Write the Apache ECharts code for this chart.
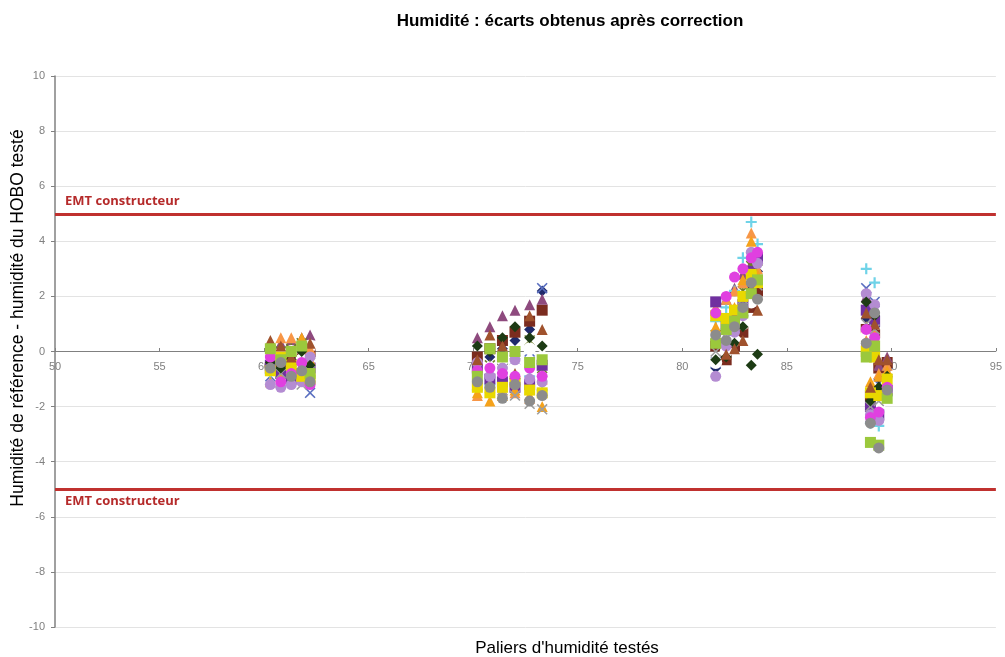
<!DOCTYPE html>
<html>
<head>
<meta charset="utf-8">
<title>Humidité : écarts obtenus après correction</title>
<script src="https://cdn.jsdelivr.net/npm/echarts@6/dist/echarts.min.js"></script>
<style>
  html, body { margin: 0; padding: 0; background: #fff; }
  #chart { width: 1005px; height: 657px; }
</style>
</head>
<body>
<div id="chart"></div>
<script>
// paliers d'humidité (abscisses des points, par palier)
const xP1 = [60.3, 60.8, 61.3, 61.8, 62.2];
const xP2 = [70.2, 70.8, 71.4, 72.0, 72.7, 73.3];
const xP3 = [81.6, 82.1, 82.5, 82.9, 83.3, 83.6];
const xP4 = [88.8, 89.2, 89.0, 89.4, 89.8];

// noms des HOBO testés
const hoboNames = ['HOBO 1', 'HOBO 2', 'HOBO 3', 'HOBO 4', 'HOBO 5', 'HOBO 6', 'HOBO 7', 'HOBO 8', 'HOBO 9',
  'HOBO 10', 'HOBO 11', 'HOBO 12', 'HOBO 13', 'HOBO 14', 'HOBO 15', 'HOBO 16', 'HOBO 17', 'HOBO 18'];

// écarts (référence - HOBO) lus sur chaque palier, une ligne par HOBO
const ecartsP1 = [
  [-0.3, -0.1, 0.0, 0.1, 0.2], [-0.6, -0.4, -0.3, -0.1, 0.0], [0.2, 0.3, 0.4, 0.5, 0.6],
  [-0.9, -0.8, -0.7, -0.5, -1.5], [-0.1, 0.0, 0.1, 0.3, -0.4], [-0.2, -0.1, 0.0, -0.3, 0.2],
  [-0.8, -0.6, -0.7, -1.0, -0.9], [0.3, 0.5, 0.5, 0.4, 0.1], [-0.5, -0.8, -1.0, -0.8, -0.6],
  [-1.1, -0.9, -0.5, 0.5, -0.3], [0.0, -0.8, -1.0, -1.2, -0.7], [-1.2, -1.3, -1.2, -1.1, -0.2],
  [-0.4, -0.6, -0.3, 0.0, -0.5], [-0.7, -0.2, -0.5, -0.9, -1.0], [0.4, 0.2, -0.2, -0.6, 0.3],
  [-0.2, -1.1, -0.8, -0.4, -1.2], [0.1, -0.3, 0.0, 0.2, -0.8], [-0.6, -0.4, -0.9, -0.7, -1.1]
];
const ecartsP2 = [
  [-0.5, -0.2, 0.1, 0.4, 0.8, 2.2], [-0.2, 0.1, 0.4, 0.7, 1.1, 1.5], [0.5, 0.9, 1.3, 1.5, 1.7, 1.9],
  [-1.0, -0.8, -0.6, -0.3, 0.0, 2.3], [-0.8, -0.5, -0.3, -0.1, 0.4, -0.6], [-1.0, -0.6, -0.3, -0.6, 0.1, -0.2],
  [-1.4, -1.2, -1.1, -1.0, -0.9, -1.4], [-1.6, -1.3, -1.4, -1.5, -1.7, -1.0], [-0.6, -1.0, -1.1, -1.3, -1.2, -0.5],
  [-1.5, -1.8, -1.6, -1.4, -1.6, -2.0], [-1.2, -1.1, -1.4, -1.6, -1.9, -2.1], [-0.4, -0.9, -0.6, -0.3, -1.0, -1.1],
  [0.2, 0.0, 0.5, 0.9, 0.5, 0.2], [-1.3, -1.5, -1.3, -1.1, -1.4, -1.5], [-0.3, 0.6, 0.2, -0.8, 1.3, 0.8],
  [-0.7, -0.6, -0.8, -0.9, -0.6, -0.9], [-0.9, 0.1, -0.2, 0.0, -0.4, -0.3], [-1.1, -1.3, -1.7, -1.2, -1.8, -1.6]
];
const ecartsP3 = [
  [-0.6, 0.0, 0.6, 1.3, 2.3, 2.9], [0.2, -0.3, 0.2, 0.7, 1.6, 2.2], [1.5, 1.9, 2.3, 2.8, 3.2, 3.6],
  [-0.4, 0.1, 0.6, 1.1, 2.0, 2.6], [0.6, 1.0, 1.3, 2.2, 3.1, 3.3], [-0.4, 0.0, 0.4, 1.0, 1.8, 1.2],
  [1.1, 1.6, 2.2, 3.4, 4.7, 3.9], [1.6, 1.9, 2.2, 2.5, 4.3, 3.0], [1.8, 0.9, 1.2, 1.7, 2.9, 3.4],
  [0.9, 1.2, 1.6, 2.6, 4.0, 2.8], [0.0, 0.5, 1.0, 1.9, 2.6, 2.4], [-0.9, 0.2, 0.7, 1.3, 3.6, 3.2],
  [-0.3, -0.2, 0.3, 0.9, -0.5, -0.1], [1.3, 1.2, 1.5, 2.0, 2.8, 2.5], [0.5, -0.1, 0.1, 0.4, 2.3, 1.5],
  [1.4, 2.0, 2.7, 3.0, 3.4, 3.6], [0.3, 0.8, 1.1, 1.4, 2.1, 2.6], [0.6, 0.4, 0.9, 1.6, 2.5, 1.9]
];
const ecartsP4 = [
  [1.2, 0.9, -1.9, -1.0, -0.6], [0.8, 0.6, -1.6, -0.6, -0.4], [2.0, 1.6, -2.1, -0.5, -0.2],
  [2.3, 1.8, -2.4, -1.2, -0.8], [0.2, 0.5, -1.7, -1.5, -1.0], [0.6, 0.4, -2.2, -2.0, -1.2],
  [3.0, 2.5, -2.6, -2.7, -1.6], [0.4, 0.3, -1.4, -0.8, -0.5], [1.5, 1.1, -2.0, -2.3, -1.4],
  [0.9, 0.7, -1.1, -0.9, -0.7], [1.0, 0.8, -2.0, -1.8, -1.1], [2.1, 1.7, -2.3, -2.5, -1.5],
  [1.8, 1.3, -1.8, -1.3, -0.9], [0.0, -0.2, -1.5, -1.6, -1.0], [1.4, 1.0, -1.3, -0.3, -0.3],
  [0.8, 0.5, -2.4, -2.2, -1.3], [-0.2, 0.2, -3.3, -3.4, -1.7], [0.3, 1.4, -2.6, -3.5, -1.4]
];

// erreur maximale tolérée par le constructeur
const emtHaut = 5;
const emtBas = -5;

// marqueurs façon Excel
const pathX = 'path://M1,0 L5,4 L9,0 L10,1 L6,5 L10,9 L9,10 L5,6 L1,10 L0,9 L4,5 L0,1 Z';
const pathPlus = 'path://M4,0 H6 V4 H10 V6 H6 V10 H4 V6 H0 V4 H4 Z';
const pathStar = 'path://M1,0 L5,4 L9,0 L10,1 L6,5 L10,9 L9,10 L5,6 L1,10 L0,9 L4,5 L0,1 Z M4.3,0 H5.7 V10 H4.3 Z';

const symbols = ['diamond', 'rect', 'triangle', pathX, pathStar, 'circle', pathPlus, 'triangle', 'rect',
  'triangle', pathX, 'circle', 'diamond', 'rect', 'triangle', 'circle', 'rect', 'circle'];
const colors = ['#1F2A6B', '#7B2C1F', '#8E4A7E', '#5A6FC0', '#6E7F2A', '#FFFFFF', '#6FD3E8', '#F79646', '#7030A0',
  '#F5A21B', '#9E9E9E', '#B48CD2', '#1D3B14', '#E8D800', '#A0522D', '#E040E0', '#9BC83C', '#8C8C8C'];

const series = hoboNames.map((name, i) => {
  let data = [];
  xP1.forEach((x, j) => data.push([x, ecartsP1[i][j]]));
  xP2.forEach((x, j) => data.push([x, ecartsP2[i][j]]));
  xP3.forEach((x, j) => data.push([x, ecartsP3[i][j]]));
  xP4.forEach((x, j) => data.push([x, ecartsP4[i][j]]));
  return {
    name: name,
    type: 'scatter',
    symbol: symbols[i],
    symbolSize: colors[i] === '#FFFFFF' ? 13 : 11,
    itemStyle: { color: colors[i], opacity: 1 },
    data: data,
    z: 3
  };
});

// lignes EMT constructeur (markLine sur une série vide)
const emtLabel = { show: true, formatter: 'EMT constructeur', color: '#B52A2A', fontWeight: 'bold',
  fontSize: 13, fontFamily: 'Open Sans, DejaVu Sans, sans-serif', distance: [10, 6] };
series.push({
  name: 'EMT', type: 'scatter', data: [], z: 4,
  markLine: {
    silent: true, symbol: 'none', animation: false,
    lineStyle: { color: '#C0312F', width: 3, type: 'solid' },
    data: [
      { yAxis: emtHaut, label: Object.assign({ position: 'insideStartTop' }, emtLabel) },
      { yAxis: emtBas, label: Object.assign({ position: 'insideStartBottom' }, emtLabel) }
    ]
  }
});

const chart = echarts.init(document.getElementById('chart'));

const option = {
  animation: false,
  backgroundColor: '#fff',
  textStyle: { fontFamily: 'Liberation Sans, Arial, sans-serif' },
  title: {
    text: 'Humidité : écarts obtenus après correction',
    left: 565, top: 8, textAlign: 'center',
    textStyle: { fontSize: 17, fontWeight: 'bold', color: '#000', fontFamily: 'Liberation Sans, Arial, sans-serif' }
  },
  grid: { left: 55, right: 5, top: 76, bottom: 30 },
  xAxis: {
    type: 'value', min: 50, max: 95, interval: 5,
    // axe des abscisses ramené sur y = 0
    offset: -276,
    axisLine: { onZero: false, lineStyle: { color: '#808080', width: 1 } },
    axisTick: { show: true, inside: true, length: 3, lineStyle: { color: '#808080' } },
    axisLabel: { color: '#808080', fontSize: 11, margin: 10 },
    splitLine: { show: false }
  },
  yAxis: {
    type: 'value', min: -10, max: 10, interval: 2,
    axisLine: { show: true, lineStyle: { color: '#808080', width: 1.5 } },
    axisTick: { show: true, length: 4, lineStyle: { color: '#808080' } },
    axisLabel: { color: '#808080', fontSize: 11, margin: 10 },
    splitLine: { show: true, lineStyle: { color: '#E3E3E3', width: 1 } }
  },
  graphic: [
    {
      type: 'text', x: 567, y: 648,
      style: { text: "Paliers d'humidité testés", align: 'center', verticalAlign: 'middle',
        font: '17px Liberation Sans, Arial, sans-serif', fill: '#000' }
    },
    {
      type: 'text', x: 18, y: 318, rotation: Math.PI / 2,
      style: { text: 'Humidité de référence - humidité du HOBO testé', align: 'center', verticalAlign: 'middle',
        font: '17.5px Liberation Sans, Arial, sans-serif', fill: '#000' }
    }
  ],
  series: series
};

chart.setOption(option);
</script>
</body>
</html>
